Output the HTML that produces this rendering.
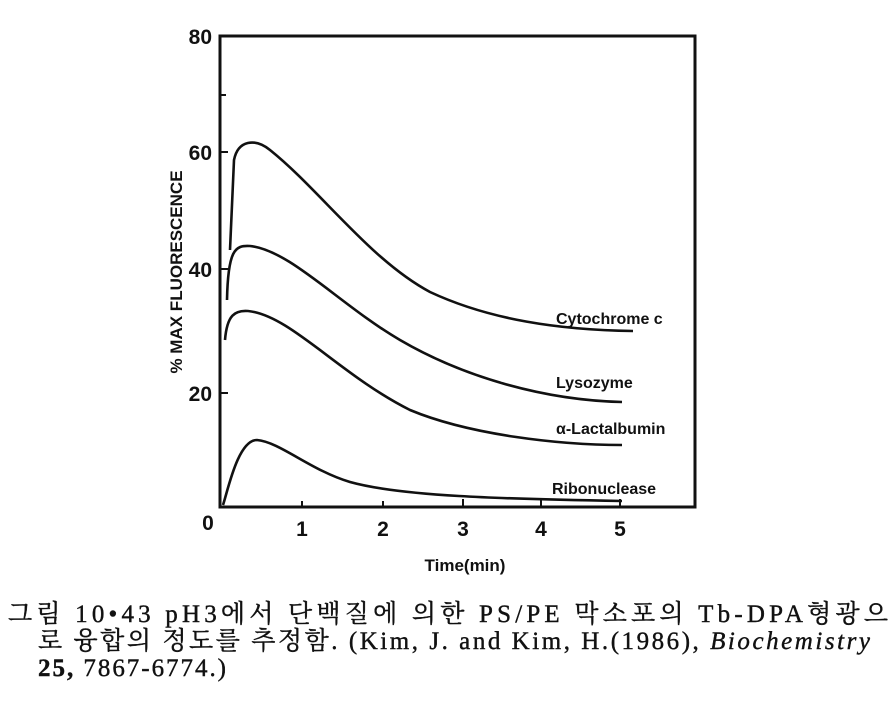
<!DOCTYPE html>
<html><head><meta charset="utf-8"><style>
html,body{margin:0;padding:0;background:#fff;width:896px;height:702px;overflow:hidden}
</style></head><body>
<svg width="896" height="702" style="position:absolute;left:0;top:0">
<g fill="none" stroke="#111" stroke-width="3">
<path d="M220,36 L695,36 L695,507 L220,507 Z"/>
</g>
<g stroke="#111" stroke-width="2">
<line x1="220" y1="95" x2="226" y2="95"/>
<line x1="220" y1="152" x2="228" y2="152"/>
<line x1="220" y1="269" x2="228" y2="269"/>
<line x1="220" y1="393" x2="228" y2="393"/>
<line x1="302" y1="507" x2="302" y2="501"/>
<line x1="383" y1="507" x2="383" y2="501"/>
<line x1="463" y1="507" x2="463" y2="499"/>
<line x1="541" y1="507" x2="541" y2="499"/>
<line x1="620" y1="507" x2="620" y2="499"/>
</g>
<g fill="none" stroke="#111" stroke-width="2.6">
<path d="M230,250 L234,160 C238,140 255,138 270,150 C320,190 370,260 430,292 C490,320 560,330 633,331"/>
<path d="M227,300 C228,250 235,245 250,246 C290,250 340,305 400,340 C460,375 540,400 622,402"/>
<path d="M225,340 C227,315 235,310 248,311 C290,315 340,375 410,410 C470,435 560,445 622,445"/>
<path d="M223,505 C228,490 238,440 257,440 C280,442 310,470 350,482 C400,496 500,499 622,501"/>
</g>
<g font-family="Liberation Sans,sans-serif" font-weight="bold" fill="#111" font-size="21">
<text x="212" y="44" text-anchor="end">80</text>
<text x="212" y="160" text-anchor="end">60</text>
<text x="212" y="277" text-anchor="end">40</text>
<text x="212" y="401" text-anchor="end">20</text>
<text x="208" y="530" text-anchor="middle">0</text>
<text x="302" y="536" text-anchor="middle">1</text>
<text x="383" y="536" text-anchor="middle">2</text>
<text x="463" y="536" text-anchor="middle">3</text>
<text x="541" y="536" text-anchor="middle">4</text>
<text x="620" y="536" text-anchor="middle">5</text>
</g>
<g font-family="Liberation Sans,sans-serif" font-weight="bold" fill="#111" font-size="16">
<text x="556" y="324">Cytochrome c</text>
<text x="556" y="388">Lysozyme</text>
<text x="556" y="434">α-Lactalbumin</text>
<text x="552" y="494">Ribonuclease</text>
<text x="465" y="571" text-anchor="middle" font-size="17">Time(min)</text>
<text transform="translate(182,272) rotate(-90)" text-anchor="middle" font-size="17">% MAX FLUORESCENCE</text>
</g>
<g font-family="Liberation Serif,Noto Serif CJK SC,Noto Sans CJK KR,serif" font-size="25" fill="#111" stroke="#111" stroke-width="0.4">
<text x="8" y="622" textLength="880" lengthAdjust="spacing">그림 10•43 pH3에서 단백질에 의한 PS/PE 막소포의 Tb-DPA형광으</text>
<text x="38" y="649" textLength="832" lengthAdjust="spacing">로 융합의 정도를 추정함. (Kim, J. and Kim, H.(1986), <tspan font-style="italic">Biochemistry</tspan></text>
<text x="38" y="676" textLength="188" lengthAdjust="spacing"><tspan font-weight="bold">25,</tspan> 7867-6774.)</text>
</g>
</svg>
</body></html>
